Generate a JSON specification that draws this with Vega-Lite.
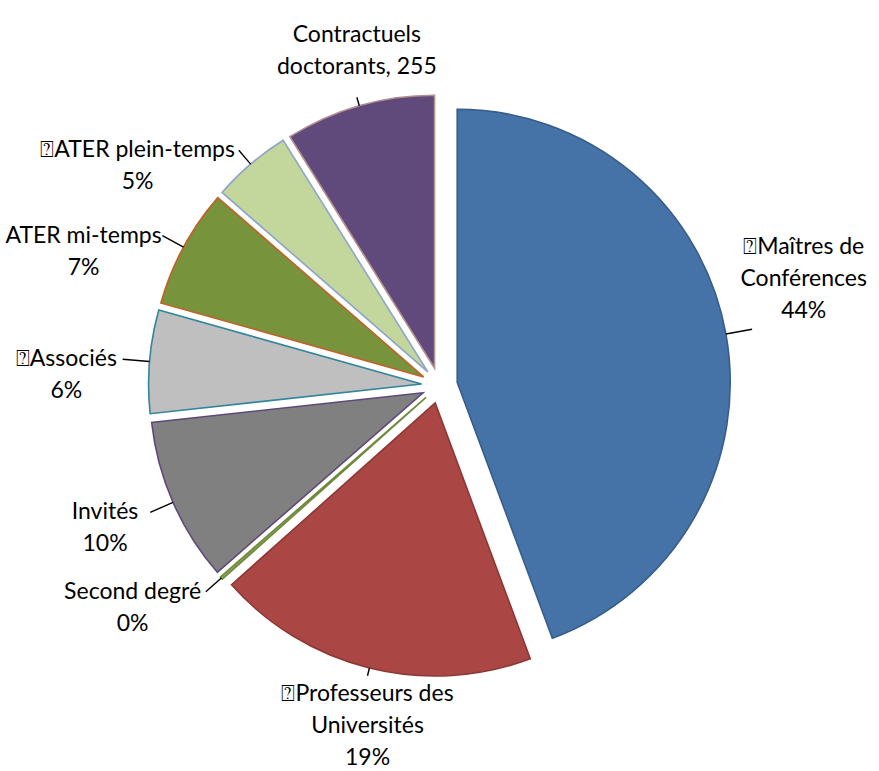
{
  "$schema": "https://vega.github.io/schema/vega-lite/v6.json",
  "width": 879,
  "height": 771,
  "padding": 0,
  "autosize": {"type": "none"},
  "background": "white",
  "config": {"view": {"stroke": null}, "font": "Lato"},
  "data": {
    "values": [
      {"name": "Maîtres de Conférences", "label": "⍰Maîtres de\nConférences", "value": 1272, "showValue": false},
      {"name": "Professeurs des Universités", "label": "⍰Professeurs des\nUniversités", "value": 547, "showValue": false},
      {"name": "Second degré", "label": "Second degré", "value": 5, "showValue": false},
      {"name": "Invités", "label": "Invités", "value": 278, "showValue": false},
      {"name": "Associés", "label": "⍰Associés", "value": 175, "showValue": false},
      {"name": "ATER mi-temps", "label": "ATER mi-temps", "value": 202, "showValue": false},
      {"name": "ATER plein-temps", "label": "⍰ATER plein-temps", "value": 135, "showValue": false},
      {"name": "Contractuels doctorants", "label": "Contractuels\ndoctorants", "value": 255, "showValue": true}
    ]
  },
  "transform": [
    {"window": [{"op": "sum", "field": "value", "as": "cum"}], "frame": [null, 0]},
    {"joinaggregate": [{"op": "sum", "field": "value", "as": "total"}]},
    {"calculate": "(datum.cum - datum.value) / datum.total * 2 * PI", "as": "a0"},
    {"calculate": "datum.cum / datum.total * 2 * PI", "as": "a1"},
    {"calculate": "(datum.a0 + datum.a1) / 2", "as": "mid"},
    {"calculate": "sin(datum.mid)", "as": "s"},
    {"calculate": "cos(datum.mid)", "as": "c"},
    {"calculate": "18 * datum.s", "as": "cx"},
    {"calculate": "18 * datum.c", "as": "cy"},
    {"calculate": "291 * datum.s", "as": "lx1"},
    {"calculate": "291 * datum.c", "as": "ly1"},
    {"calculate": "293 + 25 * abs(datum.s)", "as": "rl"},
    {"calculate": "datum.rl * datum.s", "as": "lx2"},
    {"calculate": "datum.rl * datum.c", "as": "ly2"},
    {"calculate": "datum.label + (datum.showValue ? ', ' + datum.value : '\\n' + format(datum.value / datum.total, '.0%'))", "as": "txt"},
    {"calculate": "split(datum.txt, '\\n')", "as": "lines"},
    {"calculate": "length(datum.lines)", "as": "nl"},
    {"calculate": "max(length(datum.lines[0]), datum.nl > 1 ? length(datum.lines[1]) : 0, datum.nl > 2 ? length(datum.lines[2]) : 0) * 11.2", "as": "tw"},
    {"calculate": "abs(datum.s) > 0.35 ? (datum.s > 0 ? 1 : -1) : 0", "as": "side"},
    {"calculate": "datum.side > 0 ? datum.lx2 + datum.tw / 2 - 10 : datum.lx2 + datum.side * (datum.tw / 2 + 6)", "as": "tx"},
    {"calculate": "datum.side == 0 ? (datum.c > 0 ? datum.ly2 + 30 + (datum.nl - 1) * 32 : datum.ly2 - 18) : (datum.side > 0 ? datum.ly2 + 18 + (datum.nl - 1) * 32 : datum.ly2)", "as": "ty"}
  ],
  "encoding": {
    "x": {"type": "quantitative", "scale": {"domain": [-439.5, 439.5], "nice": false, "zero": false}, "axis": null},
    "y": {"type": "quantitative", "scale": {"domain": [-385.5, 385.5], "nice": false, "zero": false}, "axis": null}
  },
  "layer": [
    {
      "mark": {"type": "arc", "outerRadius": 273, "strokeWidth": 1.6, "opacity": 1},
      "encoding": {
        "x": {"field": "cx", "type": "quantitative"},
        "y": {"field": "cy", "type": "quantitative"},
        "theta": {"field": "a0", "type": "quantitative", "scale": null, "stack": null},
        "theta2": {"field": "a1"},
        "color": {
          "field": "name", "type": "nominal", "legend": null,
          "scale": {
            "domain": ["Maîtres de Conférences", "Professeurs des Universités", "Second degré", "Invités", "Associés", "ATER mi-temps", "ATER plein-temps", "Contractuels doctorants"],
            "range": ["#4572A7", "#AA4643", "#89A54E", "#808080", "#BFBFBF", "#77933C", "#C3D69B", "#604A7B"]
          }
        },
        "stroke": {
          "field": "name", "type": "nominal", "legend": null,
          "scale": {
            "domain": ["Maîtres de Conférences", "Professeurs des Universités", "Second degré", "Invités", "Associés", "ATER mi-temps", "ATER plein-temps", "Contractuels doctorants"],
            "range": ["#385D8A", "#8C3836", "#71893F", "#5F497A", "#31859C", "#C0622A", "#8EA4C8", "#B3908F"]
          }
        }
      }
    },
    {
      "mark": {"type": "rule", "color": "black", "strokeWidth": 1.4},
      "encoding": {
        "x": {"field": "lx1", "type": "quantitative"},
        "y": {"field": "ly1", "type": "quantitative"},
        "x2": {"field": "lx2"},
        "y2": {"field": "ly2"}
      }
    },
    {
      "mark": {"type": "text", "font": "Lato", "fontSize": 23, "lineHeight": 32, "lineBreak": "\n", "align": "center", "baseline": "middle", "color": "black"},
      "encoding": {
        "x": {"field": "tx", "type": "quantitative"},
        "y": {"field": "ty", "type": "quantitative"},
        "text": {"field": "txt"}
      }
    }
  ]
}
